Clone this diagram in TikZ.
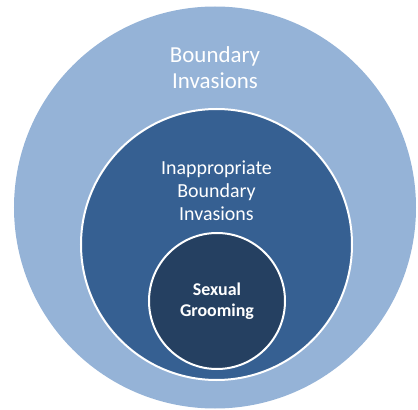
\documentclass[tikz,border=0pt]{standalone}
\usepackage{fontspec}
\setmainfont{Carlito}
\usetikzlibrary{positioning}
\definecolor{ringouter}{HTML}{95B3D7}
\definecolor{ringmid}{HTML}{366092}
\definecolor{ringcore}{HTML}{254061}
\tikzset{
  % anello del diagramma
  ring/.style={circle, inner sep=0pt, line width=2bp},
  % testo degli anelli
  ringtxt/.style={text=white, align=center, inner sep=0pt},
}

\begin{document}
\begin{tikzpicture}[x=1bp, y=1bp]
  \useasboundingbox (0,0) rectangle (418,410);
  % anelli concentrici
  \node[ring, fill=ringouter, minimum size=402bp] (outer) at (215,202.5) {};
  \node[ring, fill=ringmid, draw=white, minimum size=271bp] (mid) at (216.5,165.5) {};
  \node[ring, fill=ringcore, draw=white, minimum size=136bp] (core) at (217,109) {};
  % etichette
  \node[ringtxt, font=\fontsize{23}{26}\selectfont] (outerlbl) at (215,342) {Boundary\\Invasions};
  \node[ringtxt, font=\fontsize{20}{23}\selectfont] (midlbl) at (216.5,219) {Inappropriate\\Boundary\\Invasions};
  \node[ringtxt, font=\bfseries\fontsize{18}{21}\selectfont] (corelbl) at (217,109) {Sexual\\Grooming};
\end{tikzpicture}
\end{document}
